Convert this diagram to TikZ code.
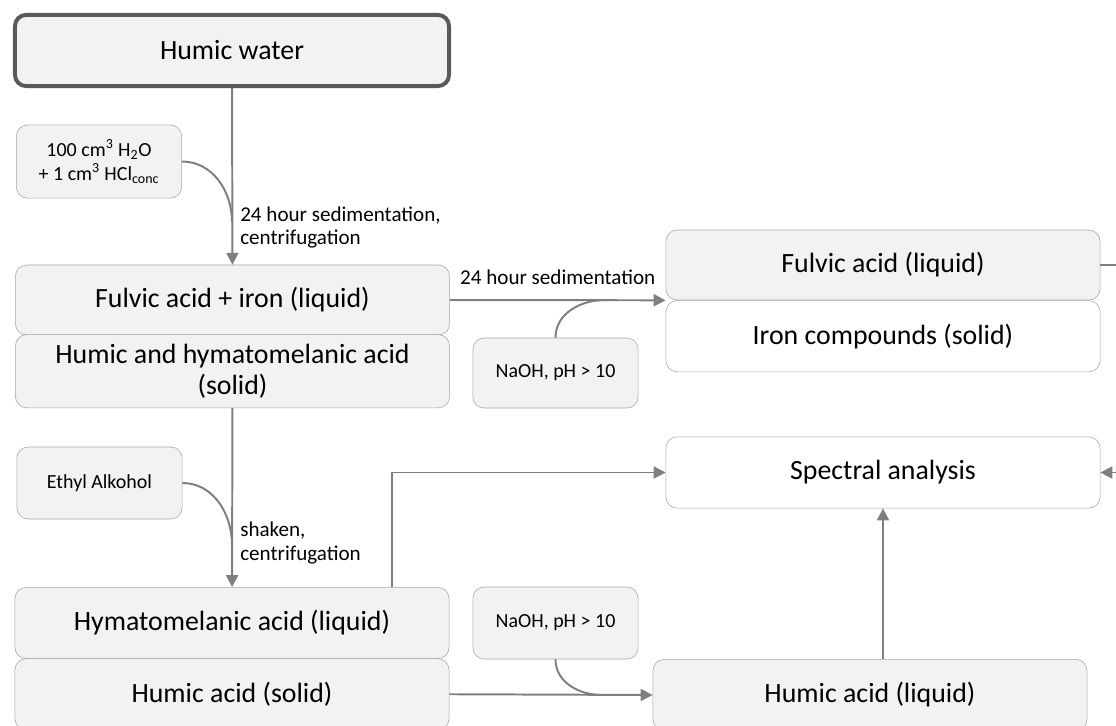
\documentclass[tikz,border=0pt]{standalone}
\usepackage{fontspec}
\setmainfont{Carlito}
\usepackage{tikz}
\usetikzlibrary{shapes.geometric, arrows.meta, positioning}
\definecolor{boxfill}{HTML}{F2F2F2}
\definecolor{boxline}{HTML}{A6A6A6}
\definecolor{flowline}{HTML}{7F7F7F}
\definecolor{startline}{HTML}{595959}
\tikzstyle{stage} = [
    rectangle, rounded corners=8pt, minimum width=10.85cm, minimum height=1.78cm,
    text centered, align=center, draw=boxline, fill=boxfill,
    font=\fontsize{19.8}{22.5}\selectfont
]
\tikzstyle{reagent} = [
    rectangle, rounded corners=8pt, minimum width=4.13cm, minimum height=1.8cm,
    align=center, draw=boxline, fill=boxfill, font=\fontsize{14.2}{17}\selectfont
]
\tikzstyle{note} = [font=\fontsize{15}{16.4}\selectfont, align=left, inner sep=0pt]
\tikzstyle{arrow} = [line width=1.4pt, draw=flowline, ->,
    >={Triangle[length=8.5pt,width=8.5pt]}]
\tikzstyle{feed} = [line width=1.4pt, draw=flowline]

\begin{document}
\begin{tikzpicture}[x=0.025cm, y=-0.025cm, node distance=1.78cm]
        \useasboundingbox (0,0) rectangle (1116,725);
        \clip (0,0) rectangle (1116,725);
        \node (water) [stage, minimum height=1.78cm, draw=startline,
            line width=2.8pt] at (232,50.5) {Humic water};
        \node (rg1) [reagent, minimum height=1.83cm] at (99,161.5)
            {100 cm\textsuperscript{3} H\textsubscript{2}O\\
             + 1 cm\textsuperscript{3} HCl\textsubscript{conc}};
        \node (fai) [stage, minimum height=1.75cm] at (232.5,300)
            {Fulvic acid + iron (liquid)};
        \node (hhs) [stage, below of=fai, minimum height=1.83cm]
            {Humic and hymatomelanic acid\\(solid)};
        \node (eth) [reagent] at (99.5,483) {Ethyl Alkohol};
        \node (hml) [stage] at (232,623) {Hymatomelanic acid (liquid)};
        \node (has) [stage, below of=hml] {Humic acid (solid)};
        \node (na1) [reagent, minimum height=1.75cm] at (555.5,373)
            {NaOH, pH > 10};
        \node (fal) [stage, minimum height=1.75cm] at (883,265)
            {Fulvic acid (liquid)};
        \node (irn) [stage, below of=fal, fill=white]
            {Iron compounds (solid)};
        \node (spc) [stage, fill=white] at (883,472.5) {Spectral analysis};
        \node (na2) [reagent] at (555.5,623) {NaOH, pH > 10};
        \node (hal) [stage] at (870,695) {Humic acid (liquid)};

        \coordinate (j1) at (232,222);
        \coordinate (j2) at (605,300);
        \coordinate (j3) at (232,545);
        \coordinate (j4) at (602,695);
        \coordinate (offr1) at (1130,265);
        \coordinate (offr2) at (1130,472.5);

        \draw [arrow] (water) -- (fai);
        \draw [feed] (rg1.east) to[out=0,in=90] (j1);
        \node (lbl1) [note, anchor=north west] at (240,207)
            {24 hour sedimentation,\\centrifugation};
        \draw [arrow] (fai.east) -- node[note, above=10pt] (lbl2)
            {24 hour sedimentation} (fal.south west);
        \draw [feed] (na1.north) to[out=90,in=180] (j2);
        \draw [feed] (fal.east) -- (offr1);
        \draw [arrow] (hhs) -- (hml);
        \draw [feed] (eth.east) to[out=0,in=90] (j3);
        \node (lbl3) [note, anchor=north west] at (240,522)
            {shaken,\\centrifugation};
        \draw [arrow] ([xshift=4cm]hml.north) |- (spc.west);
        \draw [arrow] (has.east) -- (hal.west);
        \draw [feed] (na2.south) to[out=-90,in=180] (j4);
        \draw [arrow] (spc.south |- hal.north) -- (spc.south);
        \draw [arrow] (offr2) -- (spc.east);
    \end{tikzpicture}
\end{document}
